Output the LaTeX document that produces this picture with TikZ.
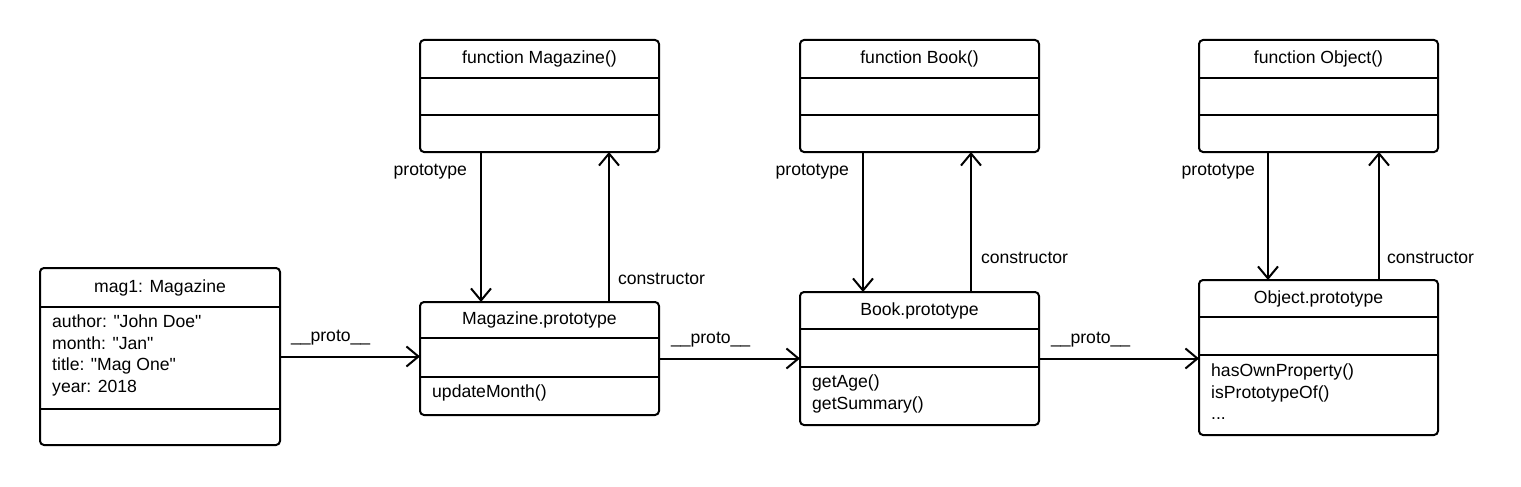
\documentclass[tikz,border=0pt]{standalone}
\usepackage{fontspec}
\setmainfont{Liberation Sans}
\newfontfamily\diagramfont{Liberation Sans} % no tex-text mapping, keeps straight quotes
\usetikzlibrary{arrows.meta, positioning, calc}
\tikzset{
    classbox/.style={
        draw,
        rounded corners=4pt, % corners of the class boxes
        line width=2pt,
        minimum width=239pt,
        inner sep=0,
        outer sep=0,
        anchor=north west
    },
    divider/.style={
        line width=2pt
    },
    titletext/.style={
        font=\diagramfont\fontsize{17.6}{21.5}\selectfont,
        inner sep=0
    },
    bodytext/.style={
        font=\diagramfont\fontsize{17.6}{21.5}\selectfont,
        align=left,
        anchor=north west,
        inner sep=0
    },
    linkarrow/.style={
        line width=2pt,
        -{Straight Barb[length=12pt, width=20pt]}
    },
    linktext/.style={
        font=\diagramfont\fontsize{17.6}{21.5}\selectfont,
        inner sep=0
    }
}

\begin{document}
\begin{tikzpicture}[x=1pt, y=-1pt]
    \useasboundingbox (0,0) rectangle (1521,487);

    % the instance
    \node[classbox, minimum width=240pt, minimum height=177pt] (mag1) at (40,268) {};
    \node[titletext] (mag1title) at (160,287.5) {mag1: Magazine};
    \draw[divider] (mag1.west |- 0,307) -- (mag1.east |- 0,307);
    \draw[divider] (mag1.west |- 0,409) -- (mag1.east |- 0,409);
    \node[bodytext] (mag1body) at (52,315) {author: "John Doe"\\month: "Jan"\\title: "Mag One"\\year: 2018};

    % Magazine
    \node[classbox, minimum height=112pt] (fnMag) at (420,40) {};
    \node[titletext] (fnMagtitle) at (539.5,59) {function Magazine()};
    \draw[divider] (fnMag.west |- 0,78) -- (fnMag.east |- 0,78);
    \draw[divider] (fnMag.west |- 0,115) -- (fnMag.east |- 0,115);

    \node[classbox, minimum height=113pt] (magProto) at (420,302) {};
    \node[titletext] (magPrototitle) at (539.5,320) {Magazine.prototype};
    \draw[divider] (magProto.west |- 0,338) -- (magProto.east |- 0,338);
    \draw[divider] (magProto.west |- 0,377) -- (magProto.east |- 0,377);
    \node[bodytext] (magProtobody) at (432,385) {updateMonth()};

    % Book
    \node[classbox, minimum height=112pt] (fnBook) at (800,40) {};
    \node[titletext] (fnBooktitle) at (919.5,59) {function Book()};
    \draw[divider] (fnBook.west |- 0,78) -- (fnBook.east |- 0,78);
    \draw[divider] (fnBook.west |- 0,115) -- (fnBook.east |- 0,115);

    \node[classbox, minimum height=133pt] (bookProto) at (800,292) {};
    \node[titletext] (bookPrototitle) at (919.5,310.5) {Book.prototype};
    \draw[divider] (bookProto.west |- 0,329) -- (bookProto.east |- 0,329);
    \draw[divider] (bookProto.west |- 0,367) -- (bookProto.east |- 0,367);
    \node[bodytext] (bookProtobody) at (812,375) {getAge()\\getSummary()};

    % Object
    \node[classbox, minimum height=112pt] (fnObj) at (1199,40) {};
    \node[titletext] (fnObjtitle) at (1318.5,59) {function Object()};
    \draw[divider] (fnObj.west |- 0,78) -- (fnObj.east |- 0,78);
    \draw[divider] (fnObj.west |- 0,115) -- (fnObj.east |- 0,115);

    \node[classbox, minimum height=155pt] (objProto) at (1199,280) {};
    \node[titletext] (objPrototitle) at (1318.5,298.5) {Object.prototype};
    \draw[divider] (objProto.west |- 0,317) -- (objProto.east |- 0,317);
    \draw[divider] (objProto.west |- 0,355) -- (objProto.east |- 0,355);
    \node[bodytext] (objProtobody) at (1211,364) {hasOwnProperty()\\isPrototypeOf()\\...};

    % prototype / constructor links
    \coordinate (magDown) at ($(fnMag.south)+(-58.5,0)$);
    \coordinate (magUp) at ($(fnMag.south)+(69.5,0)$);
    \coordinate (bookDown) at ($(fnBook.south)+(-56.5,0)$);
    \coordinate (bookUp) at ($(fnBook.south)+(51.5,0)$);
    \coordinate (objDown) at ($(fnObj.south)+(-50.5,0)$);
    \coordinate (objUp) at ($(fnObj.south)+(60.5,0)$);

    \draw[linkarrow] (magDown) -- (magDown |- magProto.north)
        node[linktext, pos=0.133, anchor=east, xshift=-13pt] (magProtoLabel) {prototype};
    \draw[linkarrow] (magUp |- magProto.north) -- (magUp)
        node[linktext, pos=0.153, anchor=west, xshift=8pt] (magCtorLabel) {constructor};
    \draw[linkarrow] (bookDown) -- (bookDown |- bookProto.north)
        node[linktext, pos=0.143, anchor=east, xshift=-13pt] (bookProtoLabel) {prototype};
    \draw[linkarrow] (bookUp |- bookProto.north) -- (bookUp)
        node[linktext, pos=0.243, anchor=west, xshift=9pt] (bookCtorLabel) {constructor};
    \draw[linkarrow] (objDown) -- (objDown |- objProto.north)
        node[linktext, pos=0.156, anchor=east, xshift=-12pt] (objProtoLabel) {prototype};
    \draw[linkarrow] (objUp |- objProto.north) -- (objUp)
        node[linktext, pos=0.172, anchor=west, xshift=7pt] (objCtorLabel) {constructor};

    % __proto__ chain
    \draw[linkarrow] (mag1.east) -- (mag1.east -| magProto.west)
        node[linktext, pos=0, anchor=south west, xshift=10pt, yshift=10pt] (proto1) {\_\_proto\_\_};
    \draw[linkarrow] (magProto.east) -- (magProto.east -| bookProto.west)
        node[linktext, pos=0, anchor=south west, xshift=11pt, yshift=10pt] (proto2) {\_\_proto\_\_};
    \draw[linkarrow] (bookProto.east) -- (bookProto.east -| objProto.west)
        node[linktext, pos=0, anchor=south west, xshift=11pt, yshift=10pt] (proto3) {\_\_proto\_\_};
\end{tikzpicture}
\end{document}
